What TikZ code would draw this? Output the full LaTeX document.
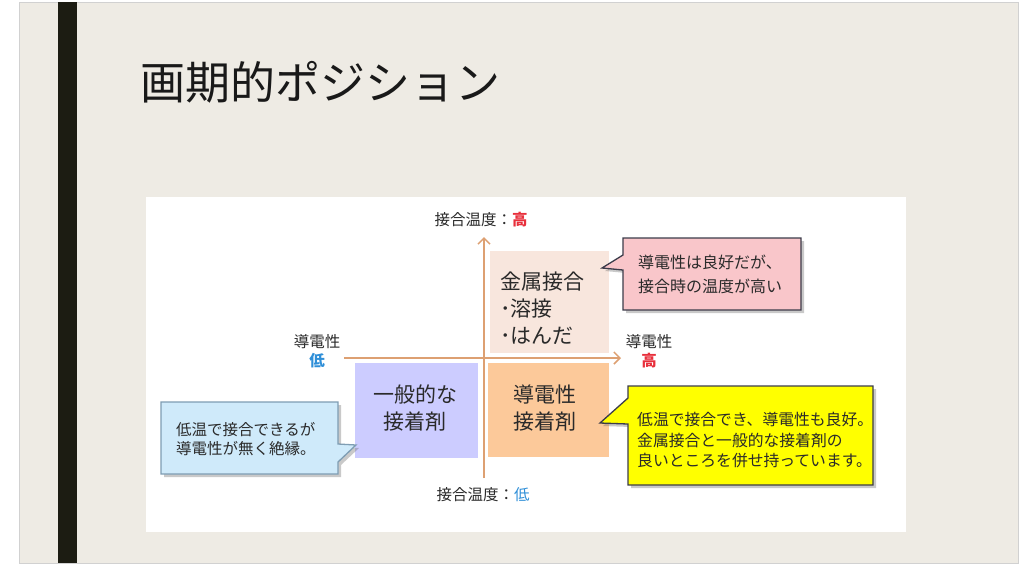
\documentclass[tikz,border=0pt]{standalone}
\usepackage{fontspec}
\setmainfont{Noto Sans CJK JP}
\usetikzlibrary{shadows,arrows.meta}
\definecolor{slidebg}{HTML}{EEEBE4}
\definecolor{barblack}{HTML}{1C1C12}
\definecolor{axiscol}{HTML}{DDA072}
\definecolor{qpink}{HTML}{F8E6DD}
\definecolor{qpurple}{HTML}{CCCCFF}
\definecolor{qorange}{HTML}{FCC99A}
\definecolor{cpink}{HTML}{F9C6CA}
\definecolor{cyellow}{HTML}{FFFF00}
\definecolor{cblue}{HTML}{CFEAFA}
\definecolor{cblueline}{HTML}{7F9DB3}
\definecolor{cdark}{HTML}{3C3C4A}
\definecolor{txtgray}{HTML}{2A2A2A}
\definecolor{hired}{HTML}{E8303C}
\definecolor{loblue}{HTML}{2F8FD8}
\tikzset{
  quad/.style={inner sep=0pt, outer sep=0pt},
  quadtext/.style={font=\fontsize{21}{27}\selectfont, text=txtgray, align=center, inner sep=0pt},
  axislabel/.style={font=\fontsize{15.5}{18}\selectfont, text=txtgray, inner sep=0pt},
  axisline/.style={draw=axiscol, line width=1.8pt},
  axisarrow/.style={axisline, -{Straight Barb[length=6pt,width=12pt,line width=1.5pt]}},
  callout/.style={line width=1.3pt, line join=miter,
     drop shadow={shadow xshift=3pt, shadow yshift=-3pt, opacity=0.35, fill=black!60}},
  callouttext/.style={align=left, text=txtgray, inner sep=0pt, anchor=west}
}
\begin{document}
\begin{tikzpicture}[x=1pt,y=-1pt]
\useasboundingbox (0,0) rectangle (1024,566);
\fill[white] (0,0) rectangle (1024,566);
% slide
\fill[slidebg] (19,2) rectangle (1018,563);
\draw[black!18, line width=0.8pt] (19,2) rectangle (1018,563);
\fill[barblack] (58,2) rectangle (77,563);
\node[anchor=west, inner sep=0pt, font=\fontsize{45}{50}\selectfont, text=black!90] (title) at (140,82) {画期的ポジション};
% panel
\fill[white] (146,197) rectangle (906,532);
% quadrants
\node[quad, fill=qpink, minimum width=119pt, minimum height=102pt] (qtr) at (549.5,302) {};
\node[quad, fill=qpurple, minimum width=123pt, minimum height=95pt] (qbl) at (416.5,410.5) {};
\node[quad, fill=qorange, minimum width=121pt, minimum height=94pt] (qbr) at (548.5,410) {};
\node[quadtext, align=left, anchor=west] (ttr) at (500,308.5) {金属接合\\･溶接\\･はんだ};
\node[quadtext] (tbl) at (415,408.5) {一般的な\\接着剤};
\node[quadtext] (tbr) at (545,408.5) {導電性\\接着剤};
% axes
\coordinate (vtop) at (484,237);
\coordinate (vbot) at (484,478);
\coordinate (hleft) at (344,358);
\coordinate (hright) at (621,358);
\draw[axisarrow] (vbot) -- (vtop);
\draw[axisarrow] (hleft) -- (hright);
% axis labels
\node[axislabel] (ltop) at (481,220) {接合温度：\textcolor{hired}{\textbf{高}}};
\node[axislabel] (lbot) at (483,495) {接合温度：\textcolor{loblue}{低}};
\node[axislabel] (lleft1) at (317,342) {導電性};
\node[axislabel, text=loblue] (lleft2) at (317,361) {\textbf{低}};
\node[axislabel] (lright1) at (649,342) {導電性};
\node[axislabel, text=hired] (lright2) at (649,361) {\textbf{高}};
% callouts
\draw[callout, draw=cdark, fill=cpink] (623,238) -- (801,238) -- (801,310) -- (623,310) -- (623,270) -- (602,268) -- (623,255) -- cycle;
\node[callouttext, font=\fontsize{16}{24}\selectfont] (cp) at (638,274) {導電性は良好だが、\\接合時の温度が高い};
\draw[callout, draw=cdark, fill=cyellow] (628,386) -- (873,386) -- (873,485) -- (628,485) -- (628,424) -- (600,423) -- (628,398) -- cycle;
\node[callouttext, font=\fontsize{15.8}{20.5}\selectfont] (cy) at (637,440.5) {低温で接合でき、導電性も良好。\\金属接合と一般的な接着剤の\\良いところを併せ持っています。};
\draw[callout, draw=cblueline, fill=cblue] (161,402) -- (338,402) -- (338,444) -- (356,445) -- (338,462) -- (338,474) -- (161,474) -- cycle;
\node[callouttext, font=\fontsize{15.5}{18.5}\selectfont] (cb) at (176,439) {低温で接合できるが\\導電性が無く絶縁。};
\end{tikzpicture}
\end{document}
